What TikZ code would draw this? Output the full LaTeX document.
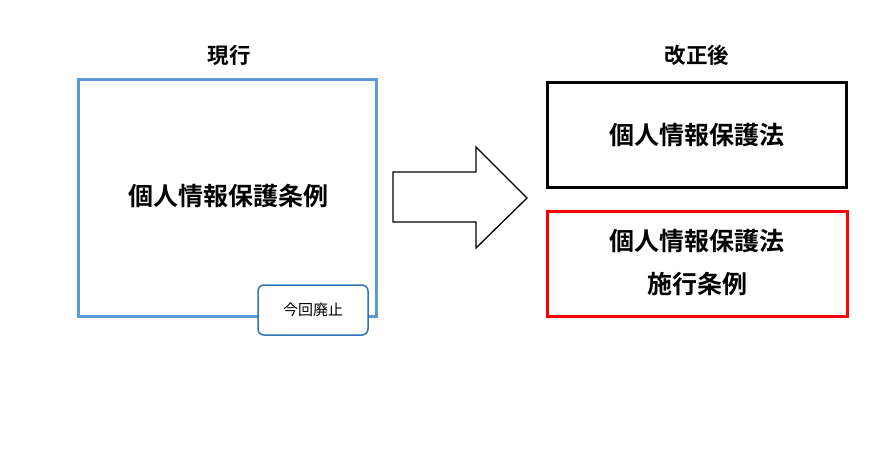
\documentclass[tikz,border=0pt]{standalone}
\usepackage{fontspec}
\newfontfamily\cjk{Noto Sans CJK JP}
\newfontfamily\cjkb{Noto Sans CJK JP Bold}
\definecolor{boxblue}{HTML}{5B9BD5}
\definecolor{tagblue}{HTML}{2E75B6}
\begin{document}
\begin{tikzpicture}[x=1pt,y=-1pt,
  title/.style={font=\cjkb\fontsize{21.5}{25}\selectfont, inner sep=0pt},
  big/.style={font=\cjkb\fontsize{25}{43}\selectfont, inner sep=0pt, align=center},
  tag/.style={font=\cjk\fontsize{15}{17}\selectfont, draw=tagblue, line width=1.5pt, fill=white, rounded corners=6pt, minimum width=110pt, minimum height=50pt, inner sep=0pt}]
\useasboundingbox (0,0) rectangle (892,448);
\node[title] (t1) at (229,55) {現行};
\node[title] (t2) at (697,55) {改正後};
\draw[boxblue, line width=3pt] (78,79) rectangle (376,316);
\node[big] (cur) at (228,196) {個人情報保護条例};
\node[tag] (haishi) at (313,310) {今回廃止};
\draw[black, line width=1.3pt, line join=miter] (393,172) -- (476,172) -- (476,147) -- (527,198) -- (476,248) -- (476,222) -- (393,222) -- cycle;
\draw[black, line width=3pt] (547,82) rectangle (846,187);
\node[big] (law) at (697,135) {個人情報保護法};
\draw[red, line width=3pt] (547,211) rectangle (847,316);
\node[big] (ord) at (697,263) {個人情報保護法\\施行条例};
\end{tikzpicture}
\end{document}
